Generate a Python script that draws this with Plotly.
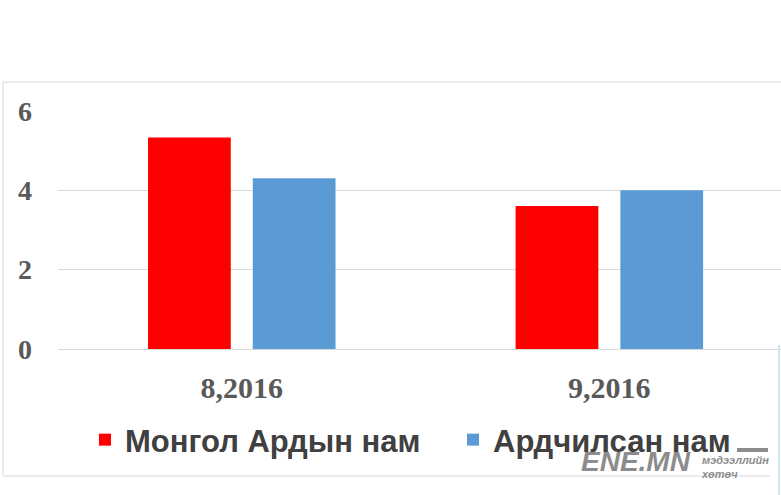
import plotly.graph_objects as go

categories = ["8,2016", "9,2016"]
series_names = ["Монгол Ардын нам", "Ардчилсан нам"]
mongol_ardyn = [5.33, 3.6]
ardchilsan = [4.3, 4.0]
colors = ["#ff0000", "#5b9bd5"]
y_ticks = [0, 2, 4, 6]

W, H = 781, 495
L, R, T, B = 58, 0, 110, 146


def px(p):
    return (p - L) / (W - L - R)


def py(p):
    return (H - B - p) / (H - T - B)


legend_ids = ["legend", "legend2"]
fig = go.Figure()
for name, vals, col, lg in zip(series_names, [mongol_ardyn, ardchilsan], colors, legend_ids):
    fig.add_trace(go.Bar(x=categories, y=vals, name=name, legend=lg,
                         marker=dict(color=col, line=dict(width=0))))

legend_style = dict(orientation="h", xanchor="left", y=py(440), yanchor="middle",
                    font=dict(family="Liberation Sans", size=31, color="#404040", weight="bold"),
                    bgcolor="rgba(0,0,0,0)")

fig.update_layout(
    width=W, height=H,
    margin=dict(l=L, r=R, t=T, b=B),
    paper_bgcolor="white", plot_bgcolor="white",
    barmode="group", bargap=0.43, bargroupgap=0.21,
    xaxis=dict(type="category", range=[-0.5, 1.467], showgrid=False, showline=False,
               ticks="", ticklabelstandoff=18,
               tickfont=dict(family="Liberation Serif", size=30, color="#595959", weight="bold")),
    yaxis=dict(range=[0, 6.02], tickvals=y_ticks, showgrid=True, gridcolor="#d9d9d9", gridwidth=1,
               zeroline=True, zerolinecolor="#d9d9d9", zerolinewidth=1, showline=False,
               ticks="", ticklabelstandoff=25,
               tickfont=dict(family="Liberation Serif", size=28, color="#595959", weight="bold")),
    showlegend=True,
    legend=dict(x=px(85), **legend_style),
    legend2=dict(x=px(453), **legend_style),
)

# outer chart frame
frame = dict(type="line", xref="paper", yref="paper", line=dict(color="#d9d9d9", width=1))
fig.add_shape(**frame, x0=px(3), x1=px(781), y0=py(82), y1=py(82))
fig.add_shape(**frame, x0=px(3), x1=px(3), y0=py(82), y1=py(476))
fig.add_shape(**frame, x0=px(3), x1=px(770), y0=py(476), y1=py(476))
fig.add_shape(type="line", xref="paper", yref="paper", x0=px(779), x1=px(779), y0=py(345), y1=py(495),
              line=dict(color="#cfe6f5", width=2))

# ENE.MN logo
fig.add_annotation(text="<b><i>ENE.MN</i></b>", xref="paper", yref="paper", x=px(693), y=py(461),
                   xanchor="right", yanchor="middle", showarrow=False,
                   font=dict(family="Liberation Sans", size=28, color="#8c8c8c"))
fig.add_shape(type="rect", xref="paper", yref="paper", x0=px(737), x1=px(768), y0=py(448), y1=py(452),
              fillcolor="#8c8c8c", line=dict(width=0))
fig.add_annotation(text="<b><i>мэдээллийн<br>хөтөч</i></b>", xref="paper", yref="paper",
                   x=px(699), y=py(467), xanchor="left", yanchor="middle", align="left",
                   showarrow=False,
                   font=dict(family="Liberation Sans", size=11, color="#8c8c8c"))

fig.write_html("out.html", config={"displayModeBar": False},
               post_script="document.body.style.margin='0px';")
